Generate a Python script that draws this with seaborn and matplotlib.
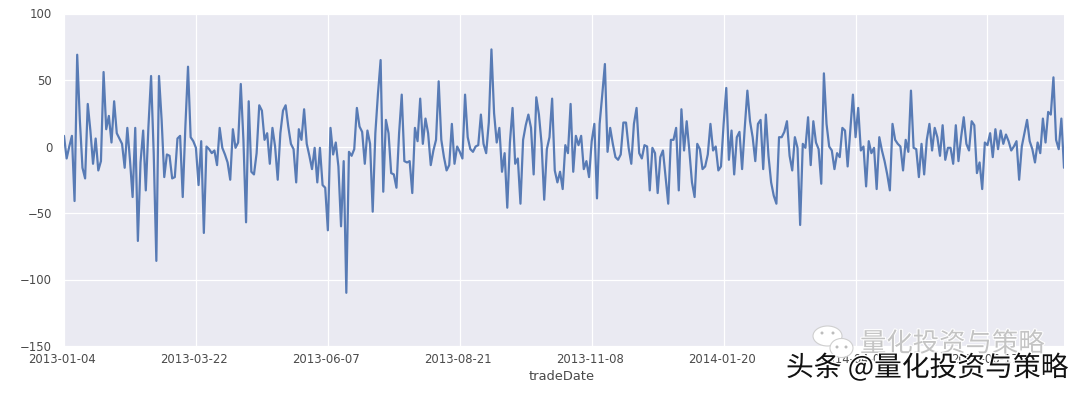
import numpy as np
import pandas as pd
import matplotlib
matplotlib.use("Agg")
import matplotlib.pyplot as plt
import matplotlib.patheffects as pe
from matplotlib.patches import Ellipse
import seaborn as sns

part_a = [8,-9,0,8,-41,69,20,-16,-24,32,12,-13,6,-18,-11,56,13,23,3,34,10,6,2,-16,14,-10,-38,14,-71,-12,12,-33,15,53,-5,-86,53,20,-23,-6,-7,-24,-23,6,8,-38,15,60,7,4,
          -1,-29,4,-65,0,-2,-5,-3,-14,14,-1,-6,-12,-25,13,-1,3,47,5,-57,34,-19,-21,-5,31,27,5,10,-13]
part_b = [14,0,-25,10,27,31,15,2,-2,-27,13,5,28,2,-7,-17,-1,-27,-1,-29,-31,-63,14,-6,3,-15,-60,-11,-110,-4,-7,-2,29,15,11,-13,12,2,-49,10,40,65,-34,20,10,-20,-21,-31,10,39,-11,-12,-11,-35,14,4,36,2,21,10,-14,-3,5,49,5,-8,-18,-14,17,-13,0,-4,-9,39,7,-2,-4,0,1,24,2,-5,18,73,25,3,14,-19,-5,-46,3,29,-13,-9,-43,5,16,24,14,-21,37,24]
part_c = [2,-40,-2,7,36,-18,-27,-19,-32,1,-5,32,-19,8,1,8,-17,-11,-23,4,17,-39,17,39,62,-4,14,2,-8,-10,-6,18,18,-1,-13,17,29,-5,-9,1,0,-33,-1,-5,-35,-8,-3,-23,-43,5,5,14,-33,28,-3,19,-3,-27,-38,2,-2,-17,-15,-6,17,-3,0,-18,-15,17,44,-10,12,-21,7,11,-17,14,42,19,7,-11,17,20,-17,24,-7,-27,-37,-43,7,7,11,19,-7,-18,7,-1,-59,2,-1,22]
part_d = [-14,19,3,-2,-28,55,17,0,-3,-17,-5,-8,14,12,-15,12,39,7,29,-3,0,-30,4,-5,-1,-32,7,-3,-11,-21,-33,17,5,2,0,-18,5,-4,42,-1,-2,-23,2,-21,5,17,-3,14,7,-7,16,-10,-1,-1,-13,16,-11,7,22,2,-3,19,16,-20,-12,-32,3,1,10,-8,13,-2,12,2,9,4,-3,0,4,-25,0,10,20,4,-2,-12,3,-5,21,3,26,24,52,5,-2,21,-16]
values = part_a + part_b + part_c + part_d

tick_labels = ["2013-01-04","2013-03-22","2013-06-07","2013-08-21","2013-11-08","2014-01-20","2014-04-03","2014-06-17"]
x_label = "tradeDate"

sns.set_theme(style="darkgrid", rc={"axes.facecolor":"#EAEAF2","grid.color":"white","grid.linewidth":0.9,
                                    "text.color":"#4a4a4a","xtick.color":"#4a4a4a","ytick.color":"#4a4a4a","axes.labelcolor":"#4a4a4a"})
plt.rcParams['font.family'] = ['DejaVu Sans']

df = pd.DataFrame({"pos": np.arange(len(values)), "val": values})
fig = plt.figure(figsize=(10.8,3.94), dpi=100)
W,H = 1080,394
ax = fig.add_axes([64/W, 1-346/H, 1000/W, (346-13.5)/H])
sns.lineplot(data=df, x="pos", y="val", ax=ax, color="#4C72B0", linewidth=1.6, alpha=0.92, errorbar=None)
ax.set_xlim(0, len(values)-1)
ax.set_ylim(-150,100)
ax.set_xticks(np.arange(len(tick_labels))*50)
ax.set_xticklabels(tick_labels)
ax.set_yticks([-150,-100,-50,0,50,100])
ax.set_yticklabels(["\u2212150","\u2212100","\u221250","0","50","100"])
ax.tick_params(axis='both', labelsize=8.4, length=0)
ax.tick_params(axis='y', pad=8.5)
ax.tick_params(axis='x', pad=5)
for lab in ax.get_xticklabels():
    lab.set_x(lab.get_position()[0])
    lab.set_transform(lab.get_transform() + matplotlib.transforms.ScaledTranslation(-2/100, 0, fig.dpi_scale_trans))
ax.set_xlabel(x_label, fontsize=9.4, labelpad=3, x=0.498)
ax.set_ylabel("")
for s in ax.spines.values():
    s.set_visible(False)

cjk = ['Noto Sans CJK SC','DejaVu Sans']
for cx,cy,w,h in [(827.5,336,29,20),(841.5,348,23,19)]:
    fig.add_artist(Ellipse((cx/W,1-cy/H), w/W, h/H, transform=fig.transFigure, fc="white", ec="#cfcfcf", lw=0.8))
for cx,cy in [(822,333),(833,333),(837,347),(846,347)]:
    fig.add_artist(Ellipse((cx/W,1-cy/H), 3/W, 3/H, transform=fig.transFigure, fc="#bdbdbd", ec="none"))
fig.text(860/W, 1-344/H, "量化投资与策略", family=cjk, fontsize=19, color="#c4c4c4", va="center", ha="left",
         path_effects=[pe.withStroke(linewidth=1.5, foreground="white")])
fig.text(786/W, 1-368/H, "头条 @量化投资与策略", family=cjk, fontsize=20, color="#111111", va="center", ha="left",
         path_effects=[pe.withStroke(linewidth=2, foreground="white")])
fig.savefig("out.png", dpi=100)
